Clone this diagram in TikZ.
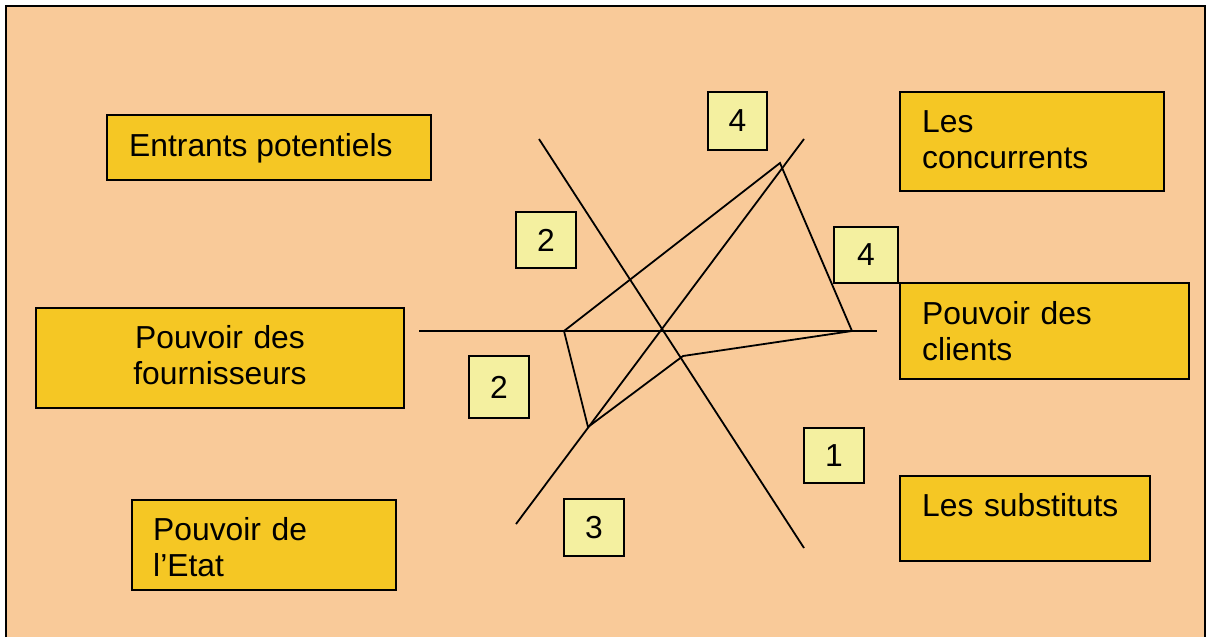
\documentclass[tikz,border=0pt]{standalone}
\usepackage{fontspec}
\setmainfont{Liberation Sans}
\definecolor{peach}{RGB}{249,202,153}
\definecolor{boxyellow}{RGB}{245,199,36}
\definecolor{numyellow}{RGB}{244,240,160}
\begin{document}
\begin{tikzpicture}[x=1pt,y=-1pt,
  font=\fontsize{31.8}{36.5}\selectfont,
  bigbox/.style={draw=black, line width=2pt, fill=boxyellow, inner sep=0pt, outer sep=0pt},
  numbox/.style={draw=black, line width=2pt, fill=numyellow, inner sep=0pt, outer sep=0pt},
  lbl/.style={anchor=base west, inner sep=0pt, text width=260pt, align=left},
  axis/.style={line width=1.8pt},
]
\useasboundingbox (0,0) rectangle (1209,637);
\fill[peach] (6,6) rectangle (1205,637);
\draw[line width=2.2pt] (6,637) -- (6,6) -- (1205,6) -- (1205,637);

% big boxes
\node[bigbox, minimum width=324pt, minimum height=65pt] (entrants) at (269,147.5) {};
\node[bigbox, minimum width=264pt, minimum height=99pt] (concurrents) at (1032,141.5) {};
\node[bigbox, minimum width=289pt, minimum height=96pt] (clients) at (1044.5,331) {};
\node[bigbox, minimum width=368pt, minimum height=100pt] (fournisseurs) at (220,358) {};
\node[bigbox, minimum width=264pt, minimum height=90pt] (etat) at (264,545) {};
\node[bigbox, minimum width=250pt, minimum height=85pt] (substituts) at (1025,518.5) {};

% texts
\node[anchor=base west, inner sep=0pt] (tentrants) at (129,156) {Entrants potentiels};
\node[lbl] (tconcurrents) at (922,132) {Les\\concurrents};
\node[lbl] (tclients) at (922,324) {Pouvoir des\\clients};
\node[anchor=base, inner sep=0pt, text width=330pt, align=center] (tfournisseurs) at (220,348) {Pouvoir des\\fournisseurs};
\node[lbl] (tetat) at (153,540) {Pouvoir de\\l’Etat};
\node[lbl] (tsubstituts) at (922,516) {Les substituts};

% number boxes
\node[numbox, minimum width=59pt, minimum height=58pt] (n4a) at (737.5,121) {4};
\node[numbox, minimum width=60pt, minimum height=56pt] (n2a) at (546,240) {2};
\node[numbox, minimum width=64pt, minimum height=56pt] (n4b) at (866,255) {4};
\node[numbox, minimum width=60pt, minimum height=62pt] (n2b) at (499,387) {2};
\node[numbox, minimum width=60pt, minimum height=55pt] (n1) at (834,455.5) {1};
\node[numbox, minimum width=60pt, minimum height=57pt] (n3) at (594,527.5) {3};

% axes
\coordinate (h1) at (419,331);
\coordinate (h2) at (877,331);
\coordinate (d1a) at (539,139);
\coordinate (d1b) at (804,548);
\coordinate (d2a) at (516,524);
\coordinate (d2b) at (804,139);
\draw[axis] (h1) -- (h2);
\draw[axis] (d1a) -- (d1b);
\draw[axis] (d2a) -- (d2b);

% polygon
\coordinate (A) at (564,331);
\coordinate (B) at (780,163);
\coordinate (C) at (852,331);
\coordinate (D) at (683,356);
\coordinate (E) at (588,427);
\draw[axis, line join=miter] (A) -- (B) -- (C) -- (D) -- (E) -- cycle;
\end{tikzpicture}
\end{document}
